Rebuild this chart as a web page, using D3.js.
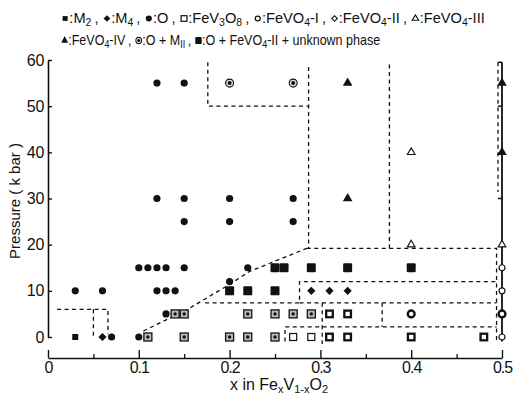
<!DOCTYPE html>
<html><head><meta charset="utf-8">
<script src="https://cdn.jsdelivr.net/npm/d3@7"></script>
<style>
body{margin:0;background:#fff}
svg{display:block}
text{font-family:"Liberation Sans",Arial,sans-serif;fill:#111}
</style>
</head><body>
<svg id="c" width="513" height="395"></svg>
<script>
// ---------- data ----------
const xTicksMajor = [0, 0.1, 0.2, 0.3, 0.4, 0.5];
const xTickLabels = ["0", "0.1", "0.2", "0.3", "0.4", "0.5"];
const xTicksMinor = [0.05, 0.15, 0.25, 0.35, 0.45];
const yTicks = [0, 10, 20, 30, 40, 50, 60];

// phases: [x, pressure kbar]
const ptsM2 = [[0.03, 0]];
const ptsM4 = [[0.06, 0], [0.29, 10], [0.31, 10], [0.33, 10]];
const ptsO = [[0.03, 10], [0.06, 10], [0.07, 0], [0.1, 0], [0.1, 15], [0.11, 15], [0.12, 15], [0.13, 15], [0.15, 15],
  [0.12, 10], [0.13, 10], [0.14, 10], [0.13, 5], [0.12, 30], [0.15, 30], [0.2, 30], [0.27, 30],
  [0.15, 25], [0.2, 25], [0.27, 25], [0.12, 55], [0.15, 55], [0.2, 12], [0.22, 15]];
const ptsFeV3O8 = [[0.27, 0], [0.29, 0]];
const ptsFeVO4I = [[0.5, 0], [0.5, 10], [0.5, 15]];
const ptsFeVO4IBold = [[0.4, 5], [0.5, 5]];
const ptsFeVO4III = [[0.4, 20], [0.4, 40], [0.5, 20]];
const ptsFeVO4IV = [[0.33, 55], [0.33, 30], [0.5, 55], [0.5, 40]];
const ptsOMII = [[0.2, 55], [0.27, 55]];
const ptsOFeVO4II = [[0.2, 10], [0.22, 10], [0.25, 10], [0.25, 15], [0.26, 15], [0.29, 15], [0.33, 15], [0.4, 15]];
const ptsSqDot = [[0.11, 0], [0.14, 5], [0.15, 5], [0.15, 0], [0.2, 0], [0.22, 0], [0.22, 5], [0.25, 5], [0.27, 5], [0.29, 5], [0.25, 0]];
const ptsSqBold = [[0.31, 5], [0.33, 5], [0.31, 0], [0.33, 0], [0.4, 0], [0.48, 0]];

// dashed phase boundaries
const boundaries = [
  [[0.01, 6], [0.066, 6], [0.066, 0.6]],
  [[0.05, 6], [0.05, 0]],
  [[0.105, 1.3], [0.153, 5.9], [0.2, 11.4], [0.222, 14.2], [0.285, 19.2]],
  [[0.176, 59.5], [0.176, 50], [0.287, 50]],
  [[0.287, 58.5], [0.287, 19.2]],
  [[0.376, 59], [0.376, 19.2]],
  [[0.285, 19.2], [0.494, 19.2], [0.494, -1]],
  [[0.173, 7.4], [0.277, 7.4], [0.277, 12], [0.494, 12]],
  [[0.277, 7.4], [0.494, 7.4]],
  [[0.368, 7.4], [0.368, 2.2]],
  [[0.302, 7.4], [0.302, -1.5]],
  [[0.261, -1], [0.261, 2.2], [0.494, 2.2]],
  [[0.4956, 59.5], [0.4956, 31.4]]
];
const solidLine = [[0.5, 59.5], [0.5, -1]];
const solidTicks = [59.5, 50, 30];

const legendRow1Types = ["M2", "M4", "O", "V3O8", "I", "II", "III"];
const legendRow1Labels = ["M_2", "M_4", "O", "FeV_3O_8", "FeVO_4-I", "FeVO_4-II", "FeVO_4-III"];
const legendRow2Types = ["IV", "OMII", "big"];
const legendRow2Labels = ["FeVO_4-IV", "O + M_{II}", "O + FeVO_4-II + unknown phase"];

// ---------- drawing ----------
const svg = d3.select("#c");
const x = d3.scaleLinear().domain([0, 0.5]).range([48, 502]);
const y = d3.scaleLinear().domain([0, 60]).range([337, 60]);
const axisY = 358;
const FONT = '"Liberation Sans", Arial, sans-serif';

// y axis
const gy = svg.append("g").attr("transform", "translate(48,0)")
  .call(d3.axisLeft(y).tickValues(yTicks).tickSize(-4).tickSizeOuter(0).tickPadding(4))
  .attr("font-size", 16).attr("font-family", FONT);
gy.select(".domain").attr("stroke-width", 1.6).attr("stroke", "#111");
gy.selectAll(".tick line").attr("stroke-width", 1.4).attr("stroke", "#111");
gy.selectAll(".tick text").attr("fill", "#111").attr("letter-spacing", -0.3);

// x axis
const gx = svg.append("g").attr("transform", `translate(0,${axisY})`)
  .call(d3.axisBottom(x).tickValues(xTicksMajor).tickFormat((d, i) => xTickLabels[i])
    .tickSize(-8).tickSizeOuter(0).tickPadding(4))
  .attr("font-size", 16).attr("font-family", FONT);
gx.select(".domain").attr("stroke-width", 1.6).attr("stroke", "#111");
gx.selectAll(".tick line").attr("stroke-width", 1.4).attr("stroke", "#111");
gx.selectAll(".tick text").attr("fill", "#111").attr("letter-spacing", -1);
const gxm = svg.append("g").attr("transform", `translate(0,${axisY})`)
  .call(d3.axisBottom(x).tickValues(xTicksMinor).tickSize(-4).tickFormat(""));
gxm.select(".domain").remove();
gxm.selectAll(".tick line").attr("stroke-width", 1.3).attr("stroke", "#111");

// axis titles
svg.append("text").attr("transform", "translate(20,201) rotate(-90)")
  .attr("text-anchor", "middle").attr("font-size", 15).text("Pressure ( k bar )");

function richText(sel, label, subSize, shift) {
  const parts = [];
  let i = 0, buf = "";
  while (i < label.length) {
    if (label[i] === "_") {
      if (buf) { parts.push([buf, false]); buf = ""; }
      let s;
      if (label[i + 1] === "{") { const j = label.indexOf("}", i); s = label.slice(i + 2, j); i = j + 1; }
      else { s = label[i + 1]; i += 2; }
      parts.push([s, true]);
    } else { buf += label[i]; i++; }
  }
  if (buf) parts.push([buf, false]);
  let down = false;
  parts.forEach(([s, sub]) => {
    const t = sel.append("tspan").text(s);
    if (sub && !down) { t.attr("dy", shift).attr("font-size", subSize); down = true; }
    else if (sub) { t.attr("font-size", subSize); }
    else if (!sub && down) { t.attr("dy", -shift); down = false; }
  });
}

const xt = svg.append("text").attr("x", 279).attr("y", 390).attr("text-anchor", "middle")
  .attr("font-size", 16).attr("xml:space", "preserve");
richText(xt, "x in Fe_xV_{1-x}O_2", 11, 3);

// dashed boundaries
const line = d3.line().x(d => x(d[0])).y(d => y(d[1]));
svg.append("g").selectAll("path").data(boundaries).join("path")
  .attr("d", line).attr("fill", "none").attr("stroke", "#111")
  .attr("stroke-width", 1.3).attr("stroke-dasharray", "4,3.5");

// solid right line
svg.append("path").attr("d", line(solidLine)).attr("stroke", "#111").attr("stroke-width", 1.8).attr("fill", "none");
svg.append("g").selectAll("line").data(solidTicks).join("line")
  .attr("x1", x(0.5) - 4).attr("x2", x(0.5)).attr("y1", d => y(d)).attr("y2", d => y(d))
  .attr("stroke", "#111").attr("stroke-width", 1.5);

// markers
function drawMarker(g, type, s) {
  s = s || 1;
  const k = "#111";
  switch (type) {
    case "M2": g.append("rect").attr("x", -3 * s).attr("y", -3 * s).attr("width", 6 * s).attr("height", 6 * s).attr("fill", k); break;
    case "M4": g.append("path").attr("d", d3.symbol(d3.symbolSquare, 34 * s * s)()).attr("transform", "rotate(45)").attr("fill", k); break;
    case "O": g.append("circle").attr("r", 3.6 * s).attr("fill", k); break;
    case "V3O8": g.append("rect").attr("x", -3.5 * s).attr("y", -3.5 * s).attr("width", 7 * s).attr("height", 7 * s).attr("fill", "#fff").attr("stroke", k).attr("stroke-width", 1.2); break;
    case "I": g.append("circle").attr("r", 3 * s).attr("fill", "#fff").attr("stroke", k).attr("stroke-width", 1.2); break;
    case "Ibold": g.append("circle").attr("r", 3.4 * s).attr("fill", "#fff").attr("stroke", k).attr("stroke-width", 2.4); break;
    case "II": g.append("path").attr("d", d3.symbol(d3.symbolSquare, 22 * s * s)()).attr("transform", "rotate(45)").attr("fill", "#fff").attr("stroke", k).attr("stroke-width", 1.1); break;
    case "III": g.append("path").attr("d", d3.symbol(d3.symbolTriangle, 26 * s * s)()).attr("fill", "#fff").attr("stroke", k).attr("stroke-width", 1.1); break;
    case "IV": g.append("path").attr("d", d3.symbol(d3.symbolTriangle, 40 * s * s)()).attr("fill", k); break;
    case "OMII":
      g.append("circle").attr("r", 4 * s).attr("fill", "#ddd").attr("stroke", k).attr("stroke-width", 1.1);
      g.append("circle").attr("r", 2 * s).attr("fill", k); break;
    case "big": g.append("rect").attr("x", -4.5 * s).attr("y", -4.5 * s).attr("width", 9 * s).attr("height", 9 * s).attr("rx", 1.2).attr("fill", k); break;
    case "sqdot":
      g.append("rect").attr("x", -4 * s).attr("y", -4 * s).attr("width", 8 * s).attr("height", 8 * s).attr("fill", "#bbb").attr("stroke", k).attr("stroke-width", 1.3);
      g.append("circle").attr("r", 1.7 * s).attr("fill", k); break;
    case "sqbold": g.append("rect").attr("x", -3.3 * s).attr("y", -3.3 * s).attr("width", 6.6 * s).attr("height", 6.6 * s).attr("fill", "#fff").attr("stroke", k).attr("stroke-width", 2.3); break;
  }
}

const series = [
  ["M2", ptsM2], ["M4", ptsM4], ["O", ptsO], ["V3O8", ptsFeV3O8], ["I", ptsFeVO4I], ["Ibold", ptsFeVO4IBold],
  ["III", ptsFeVO4III], ["IV", ptsFeVO4IV], ["OMII", ptsOMII], ["big", ptsOFeVO4II],
  ["sqdot", ptsSqDot], ["sqbold", ptsSqBold]
];
const gm = svg.append("g");
series.forEach(([type, pts]) => {
  gm.selectAll(null).data(pts).join("g")
    .attr("transform", d => `translate(${x(d[0])},${y(d[1])})`)
    .each(function () { drawMarker(d3.select(this), type); });
});

// legend
function legendRow(types, labels, x0, baseY, targetW) {
  const g = svg.append("g");
  let cx = 0;
  types.forEach((t, i) => {
    const mg = g.append("g").attr("transform", `translate(${cx + 3},${baseY - 4.5})`);
    drawMarker(mg, t, 0.8);
    cx += 7;
    const tx = g.append("text").attr("x", cx).attr("y", baseY).attr("font-size", 14).attr("xml:space", "preserve");
    tx.append("tspan").text(":");
    richText(tx, labels[i], 10, 3);
    cx += tx.node().getComputedTextLength() + 3;
    if (i < types.length - 1) {
      const sep = g.append("text").attr("x", cx).attr("y", baseY).attr("font-size", 14).text(",");
      cx += sep.node().getComputedTextLength() + 5;
    }
  });
  const sx = targetW / cx;
  g.attr("transform", `translate(${x0},0) scale(${sx},1)`);
}
legendRow(legendRow1Types, legendRow1Labels, 62, 23, 426);
legendRow(legendRow2Types, legendRow2Labels, 62, 45, 321);
</script>
</body></html>
